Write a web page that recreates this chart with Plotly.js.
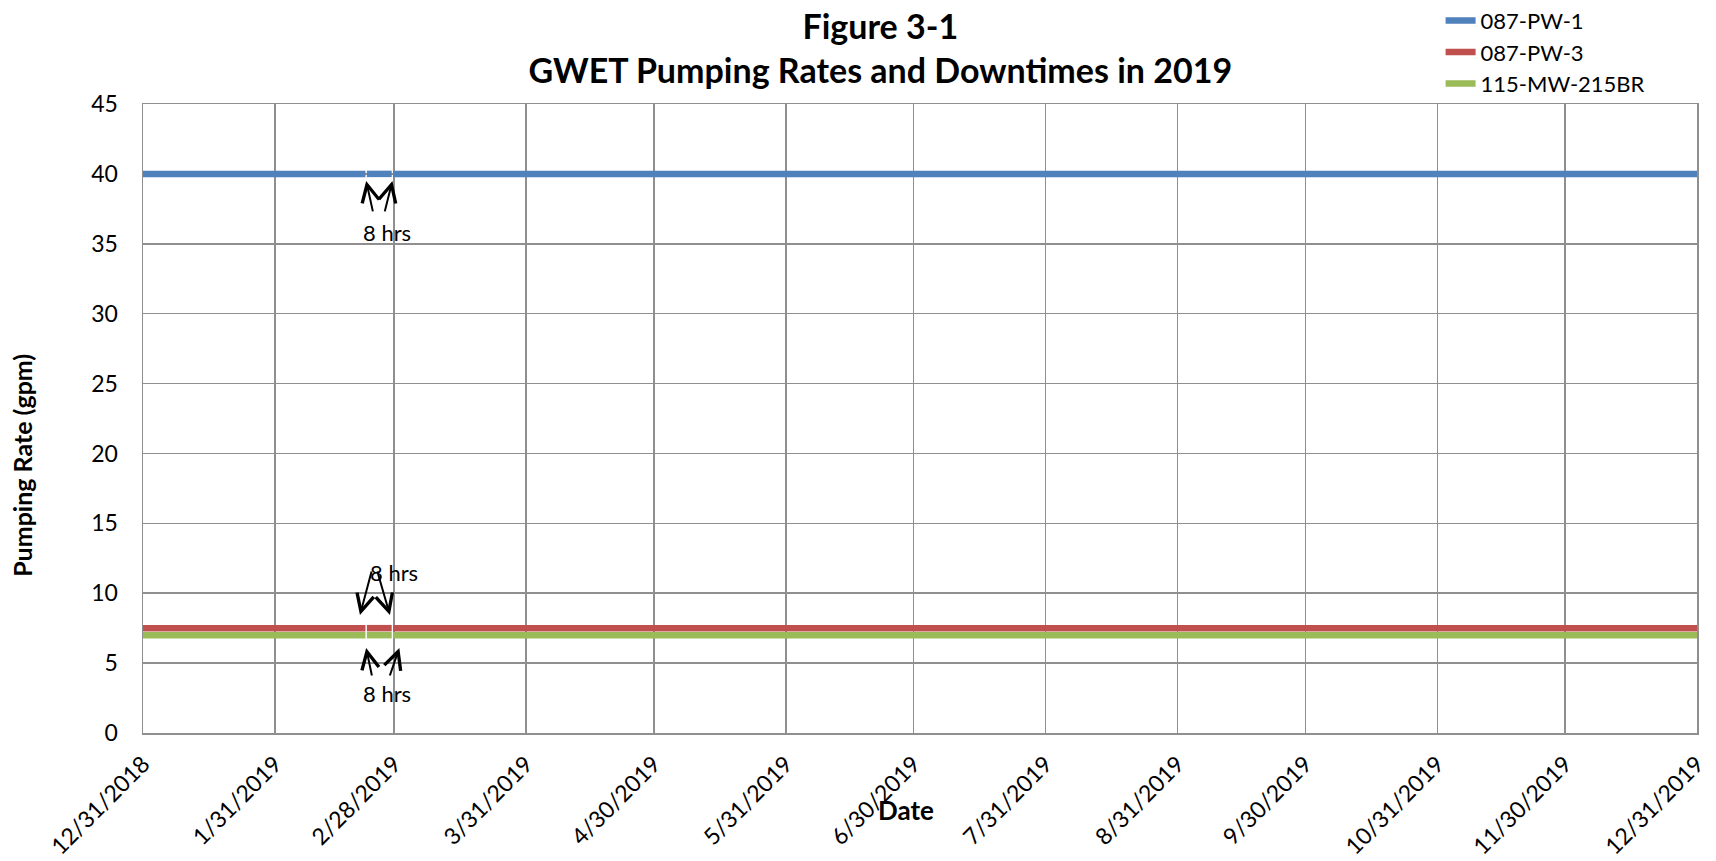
<!DOCTYPE html>
<html>
<head>
<meta charset="utf-8">
<script src="https://cdn.plot.ly/plotly-3.0.1.min.js"></script>
<style>
  html, body { margin: 0; padding: 0; background: #fff; }
  #chart { width: 1716px; height: 861px; }
</style>
</head>
<body>
<div id="chart"></div>
<script>
// ---- data ----
const seriesNames = ['087-PW-1', '087-PW-3', '115-MW-215BR'];
// dates with null points marking the two 8-hour downtimes
const pointDates = ['2018-12-31 00:00', '2019-02-21 06:00', '2019-02-21 10:00', '2019-02-21 14:00',
                    '2019-02-27 10:00', '2019-02-27 14:00', '2019-02-27 18:00', '2019-12-31 00:00'];
const pw1Rates   = [40, 40, null, 40, 40, null, 40, 40];
const pw3Rates   = [7.5, 7.5, null, 7.5, 7.5, null, 7.5, 7.5];
const mw215Rates = [7, 7, null, 7, 7, null, 7, 7];
const tickDates  = ['2018-12-31', '2019-01-31', '2019-02-28', '2019-03-31', '2019-04-30', '2019-05-31',
                    '2019-06-30', '2019-07-31', '2019-08-31', '2019-09-30', '2019-10-31', '2019-11-30', '2019-12-31'];
const tickLabels = ['12/31/2018', '1/31/2019', '2/28/2019', '3/31/2019', '4/30/2019', '5/31/2019',
                    '6/30/2019', '7/31/2019', '8/31/2019', '9/30/2019', '10/31/2019', '11/30/2019', '12/31/2019'];
const downtimeLabel = '8 hrs';

const colors = ['#4F81BD', '#C0504D', '#9BBB59'];
const seriesRates = [pw1Rates, pw3Rates, mw215Rates];

const traces = seriesNames.map((name, i) => ({
  type: 'scatter', mode: 'lines', name: name,
  x: pointDates, y: seriesRates[i],
  line: {color: colors[i], width: 6.5},
  connectgaps: false, hoverinfo: 'x+y+name'
}));

const FONT = 'Lato, "Open Sans", sans-serif';
const gridColor = '#8f8f8f';

// arrow annotations pointing at the downtime gaps
function arrow(x, y, ax, ay) {
  return {x: x, y: y, xref: 'x', yref: 'y', ax: ax, ay: ay, text: '', showarrow: true,
          arrowhead: 5, arrowsize: 1.7, arrowwidth: 2, arrowcolor: '#000', standoff: 0};
}
function label(x, y) {
  return {x: x, y: y, xref: 'x', yref: 'y', text: downtimeLabel, showarrow: false,
          xanchor: 'center', yanchor: 'middle',
          font: {family: FONT, size: 22, color: '#000'}};
}

const annotations = [
  arrow('2019-02-21 10:00', 39.5, 7, 32),
  arrow('2019-02-27 14:00', 39.5, -8, 32),
  label('2019-02-26 07:00', 35.8),
  arrow('2019-02-19 23:00', 8.44, 12, -45),
  arrow('2019-02-27 00:00', 8.44, -13, -45),
  label('2019-02-27 22:00', 11.5),
  arrow('2019-02-21 10:00', 6.08, 6, 29),
  arrow('2019-03-01 05:00', 6.08, -10, 29),
  label('2019-02-26 07:00', 2.8),
  {text: '<b>Pumping Rate (gpm)</b>', xref: 'paper', yref: 'paper', x: -0.078, y: 0.426,
   xanchor: 'center', yanchor: 'middle',
   textangle: -90, showarrow: false, font: {family: FONT, size: 25, color: '#000'}},
  {text: '<b>Date</b>', xref: 'paper', yref: 'paper', x: 0.491, y: -0.1224,
   xanchor: 'center', yanchor: 'middle',
   showarrow: false, font: {family: FONT, size: 26, color: '#000'}}
];

const layout = {
  width: 1716, height: 861,
  paper_bgcolor: '#fff', plot_bgcolor: '#fff',
  margin: {l: 143, r: 19, t: 104, b: 128, autoexpand: false},
  font: {family: FONT, size: 22, color: '#000'},
  title: {
    text: 'Figure 3-1<br>GWET Pumping Rates and Downtimes in 2019',
    font: {family: FONT, size: 34, color: '#000', weight: 'bold'},
    x: 0.513, xanchor: 'center', yref: 'container', y: 0.955, yanchor: 'top'
  },
  showlegend: true,
  legend: {x: 0.835, xanchor: 'left', y: 1.166, yanchor: 'top', bgcolor: 'rgba(0,0,0,0)',
           font: {family: FONT, size: 22, color: '#000'}, tracegroupgap: 0},
  xaxis: {
    type: 'date', range: ['2018-12-31', '2019-12-31'],
    tickmode: 'array', tickvals: tickDates, ticktext: tickLabels, tickangle: -45,
    showgrid: true, gridcolor: gridColor, gridwidth: 1.5,
    showline: true, linecolor: gridColor, linewidth: 1.5, mirror: true,
    ticks: '', zeroline: false, ticklabelstandoff: 7,
    tickfont: {family: FONT, size: 23, color: '#000'}
  },
  yaxis: {
    range: [0, 45], tickmode: 'linear', tick0: 0, dtick: 5,
    showgrid: true, gridcolor: gridColor, gridwidth: 1.5,
    showline: true, linecolor: gridColor, linewidth: 1.5, mirror: true,
    ticks: '', zeroline: false, ticklabelstandoff: 19,
    tickfont: {family: FONT, size: 23, color: '#000'}
  },
  annotations: annotations
};

Plotly.newPlot('chart', traces, layout, {displayModeBar: false, staticPlot: true});
</script>
</body>
</html>
